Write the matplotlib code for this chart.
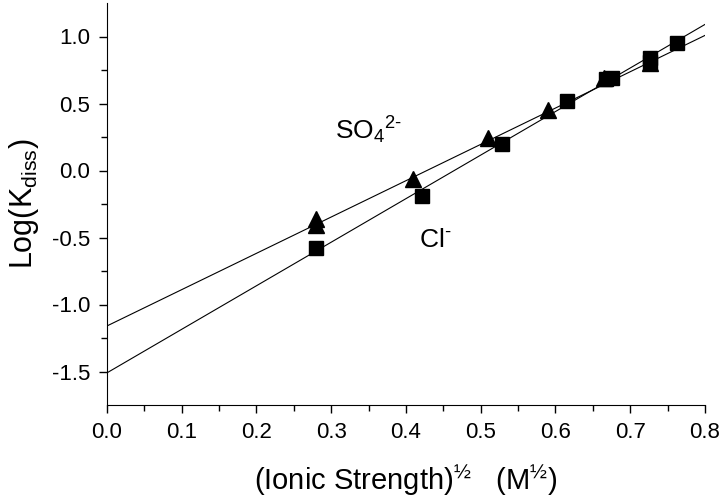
import numpy as np
import matplotlib
matplotlib.use('Agg')
import matplotlib.pyplot as plt

FONT = 'Liberation Sans'

# SO4(2-) data (triangles)
so4_x = [0.280, 0.280, 0.410, 0.510, 0.590, 0.665, 0.727]
so4_y = [-0.36, -0.41, -0.06, 0.24, 0.45, 0.69, 0.80]
# Cl- data (squares)
cl_x = [0.280, 0.422, 0.528, 0.615, 0.668, 0.675, 0.727, 0.727, 0.762]
cl_y = [-0.58, -0.19, 0.20, 0.52, 0.68, 0.69, 0.84, 0.81, 0.95]

# fitted lines (intercept, slope)
so4_fit = (-1.16, 2.71)
cl_fit = (-1.51, 3.25)
fit_x = [0.0, 0.8]


def main():
    plt.rcParams['font.family'] = [FONT, 'DejaVu Sans']
    plt.rcParams['mathtext.fontset'] = 'custom'
    plt.rcParams['mathtext.rm'] = FONT
    plt.rcParams['mathtext.it'] = FONT
    plt.rcParams['mathtext.default'] = 'regular'
    plt.rcParams['axes.unicode_minus'] = False

    fig = plt.figure(figsize=(7.2, 5.0), dpi=100)
    ax = fig.add_axes([0.1486, 0.19, 0.8305, 0.804])

    for b, m in (so4_fit, cl_fit):
        fx = np.array(fit_x)
        ax.plot(fx, b + m * fx, color='black', lw=0.8)

    ax.plot(so4_x, so4_y, '^', color='black', ms=12, ls='none')
    ax.plot(cl_x, cl_y, 's', color='black', ms=10, ls='none')

    ax.set_xlim(0, 0.8)
    ax.set_ylim(-1.75, 1.25)
    ax.set_xticks(np.arange(0, 0.81, 0.1))
    ax.set_xticks(np.arange(0.05, 0.8, 0.1), minor=True)
    ax.set_yticks([-1.5, -1.0, -0.5, 0.0, 0.5, 1.0])
    ax.set_yticks([-1.25, -0.75, -0.25, 0.25, 0.75], minor=True)
    ax.xaxis.set_major_formatter(matplotlib.ticker.FormatStrFormatter('%.1f'))
    ax.yaxis.set_major_formatter(matplotlib.ticker.FormatStrFormatter('%.1f'))

    ax.spines['top'].set_visible(False)
    ax.spines['right'].set_visible(False)
    ax.tick_params(which='major', length=6, width=1, labelsize=16, direction='out', pad=6)
    ax.tick_params(which='minor', length=4, width=1, direction='out')

    ax.set_xlabel('(Ionic Strength)$^{½}$   (M$^{½}$)', fontsize=21, labelpad=14)
    ax.set_ylabel('Log(K$_{diss}$)', fontsize=22, labelpad=8)

    ax.text(0.305, 0.30, r'SO$_4$$^{2\text{-}}$', fontsize=19, ha='left', va='center')
    ax.text(0.418, -0.52, r'Cl$^{\text{-}}$', fontsize=19, ha='left', va='center')

    fig.savefig('out.png', dpi=100)


if __name__ == "__main__":
    main()
